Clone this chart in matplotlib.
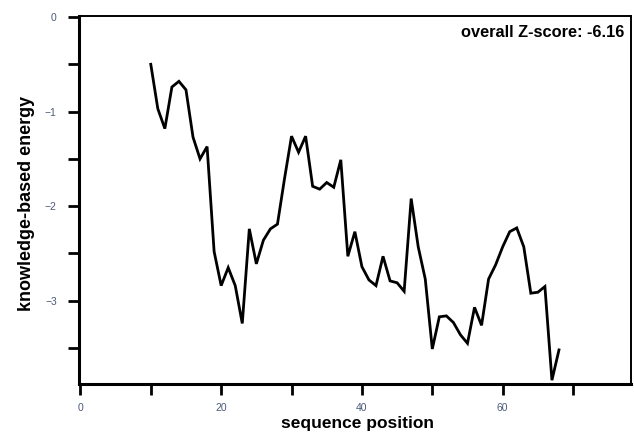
import numpy as np
import matplotlib
matplotlib.use("Agg")
import matplotlib.pyplot as plt
from matplotlib.ticker import MultipleLocator, FuncFormatter

# sequence positions and knowledge-based energy
position = list(range(10, 69))
energy = [
    -0.50, -0.97, -1.18, -0.74, -0.68, -0.77, -1.27, -1.50, -1.37, -2.48,
    -2.84, -2.65, -2.84, -3.24, -2.24, -2.61, -2.36, -2.24, -2.19, -1.71,
    -1.26, -1.43, -1.26, -1.79, -1.82, -1.75, -1.80, -1.51, -2.53, -2.27,
    -2.64, -2.78, -2.84, -2.53, -2.79, -2.81, -2.90, -1.92, -2.43, -2.77,
    -3.51, -3.17, -3.16, -3.23, -3.36, -3.45, -3.07, -3.26, -2.77, -2.62,
    -2.43, -2.27, -2.23, -2.43, -2.92, -2.91, -2.85, -3.84, -3.52,
]
z_score = -6.16

plt.rcParams['font.family'] = ['Liberation Sans', 'DejaVu Sans']

fig = plt.figure(figsize=(6.34, 4.33), dpi=100)
ax = fig.add_axes([0.1246, 0.1132, 0.8714, 0.8508])

ax.plot(position, energy, color='black', linewidth=2.0, solid_joinstyle='miter')

ax.set_xlim(-0.2, 78.3)
ax.set_ylim(-3.88, 0.015)

# ticks every 10 / 0.5, labels only on every other tick
ax.xaxis.set_major_locator(MultipleLocator(10))
ax.yaxis.set_major_locator(MultipleLocator(0.5))
ax.xaxis.set_major_formatter(FuncFormatter(lambda v, p: f"{v:.0f}" if round(v) % 20 == 0 else ""))
ax.yaxis.set_major_formatter(FuncFormatter(
    lambda v, p: (f"{v:.0f}".replace('-', '\u2212') if abs(v - round(v)) < 1e-6 else "")))

tick_col = '#4a5a78'
ax.tick_params(axis='both', direction='out', length=8, width=2, colors='black',
               labelcolor=tick_col, labelsize=7.5)
ax.tick_params(axis='x', pad=6)
ax.tick_params(axis='y', pad=8)

for side in ['left', 'bottom']:
    ax.spines[side].set_linewidth(2.2)
for side in ['top', 'right']:
    ax.spines[side].set_linewidth(1.4)

ax.set_xlabel('sequence position', fontsize=12.5, fontweight='bold')
ax.set_ylabel('knowledge-based energy', fontsize=13, fontweight='bold')
ax.xaxis.set_label_coords(0.505, -0.086)
ax.yaxis.set_label_coords(-0.08, 0.49)

ax.text(0.987, 0.955, f'overall Z-score: {z_score:.2f}', transform=ax.transAxes,
        ha='right', va='center', fontsize=11.8, fontweight='bold')

fig.savefig('out.png', dpi=100)
